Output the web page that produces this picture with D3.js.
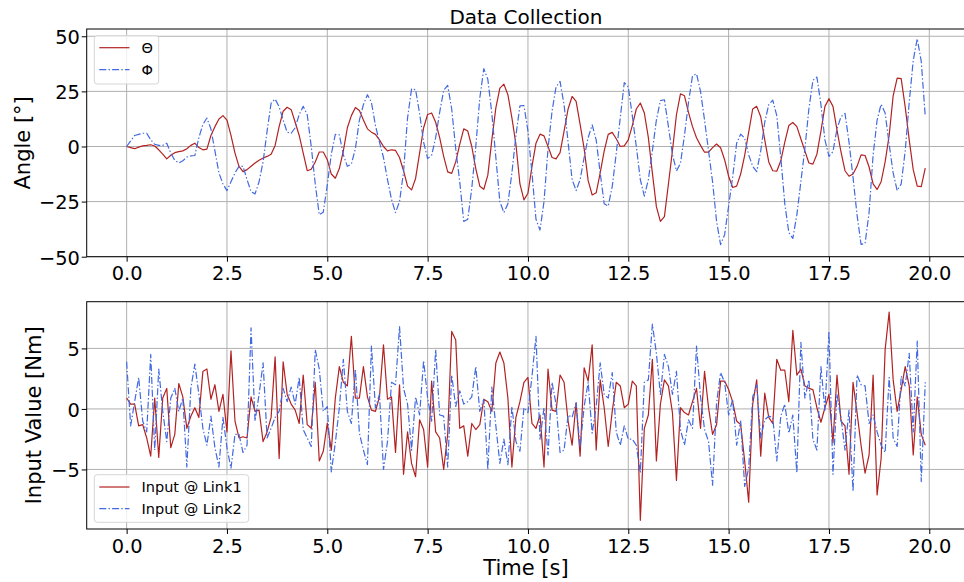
<!DOCTYPE html>
<html><head><meta charset="utf-8">
<script src="https://cdn.jsdelivr.net/npm/d3@7"></script>
<style>body{margin:0;background:#fff} svg{display:block;font-family:"DejaVu Sans",sans-serif}</style>
</head><body><svg id="c" width="964" height="582"></svg>
<script>
const time = d3.range(200).map(i => i / 10);
const theta = [0,-0.5,-1,-0.3,0.3,0.5,0.8,0.2,-1.5,-3.5,
-5.6,-4,-2.8,-2.3,-2,-1,0.5,1.5,-0.5,-1.5,
-1.2,5,9,12.5,14,12,5,-3,-9,-11.4,
-10.5,-9,-7.5,-6.2,-5.2,-4.5,-3.5,0.5,9,16,
17.8,16.7,11,5,-3,-11,-10.3,-7,-2.5,-2.5,
-6,-12.5,-14.4,-10,-2,8.5,14,17.7,16.3,12,
8,6.5,5.5,3,0,-2,-1.5,-1.8,-5,-11,
-18,-19.7,-14.5,-3,8.5,14.5,15.2,11,4,-4.5,
-11.5,-12.2,-7,1,8,7,0,-10,-18,-19.4,
-13,3,17.5,26.5,28.3,23.5,13,1,-17,-24.2,
-21.2,-9,1.5,5.6,4.8,0,-5,-5.6,-2.8,7,
17,22.7,20.5,10,-1,-15.5,-22,-21,-12,-2,
5.5,6.4,3.5,0,0.3,3,9.5,17,19.7,15.2,
4,-12,-27.3,-34,-31.8,-17,-2,14.4,23.9,23,
15.5,9,4,0.5,-2.6,-2.6,-0.5,1.1,-0.6,-6,
-13.5,-18.6,-18,-12.5,-4,6.5,17,18.2,13.5,3,
-7,-11,-11.2,-6.5,2,9.5,10.9,9,3.5,-2,
-7.5,-8,-3.5,7,18.2,21.7,18.2,7.5,-2.5,-11,
-13.5,-12.5,-9,-3.8,-4.1,-9.3,-17,-19.5,-16,-7,
5,23,31,30.8,18,3,-10.5,-18,-18.2,-9.8];
const phi = [0,2.5,5,5.5,6,6,3,1,0.5,0.5,
1.5,-3,-6.3,-7.5,-6.5,-4.8,-4.3,-4.1,4,10,
12.9,8,-2,-12,-17,-20,-16,-12,-9,-9,
-15,-20.5,-21.5,-16,-7,7,19.7,21.5,18,12,
6.5,6,8.5,14.5,18.2,14.4,0,-17,-31,-29.8,
-17.4,-3.5,5.5,5.3,-3.8,-9,-8,-1,12,19,
23.5,20,9.5,2,-5,-15,-24,-30,-25,-11.5,
13,26.1,25.8,15,2,-5.5,-4,4,15.5,25.5,
27.7,17,-1,-16,-34,-33,-19,0,22,35.3,
30.5,15,-5,-25,-30,-26,-12,5,18.4,18.6,
7,-12,-33,-37.9,-25,-1,16,27,29.5,18.9,
2,-15,-20,-15,-5,4,9.8,3,-12,-26,
-27,-18.2,-3,13,29,27,14,0,-15,-22.5,
-15,-2,12,20.8,21.2,9,-3.5,-11.1,-7.6,5,
20,32,33,25,12,-2,-16,-34,-44.5,-40,
-27,-14,1.5,5.6,3.8,-3.8,-9,-11.4,-2,11,
19,21,14,-5,-26,-39,-41.7,-31,-16,-1,
17,30,31.5,19,3,-4.5,-2.3,8,13.5,15,
2,-14,-31,-44.4,-44,-30,-4,12,19.2,15.2,
1,-12,-20,-17,-2,20,39,48.9,38.6,13.6];
const link1 = [0.9,0.4,0.4,-1.4,-1.3,-2.4,-3.9,0.9,-4.0,0.9,
1.7,-3.2,-2.1,2.1,1.0,-1.6,-0.6,0.1,-0.7,3.1,
3.3,0.8,2.0,-0.2,1.2,-1.9,4.8,-1.0,-2.4,-2.3,
-2.4,1.0,-0.2,-0.1,-2.7,-1.9,-0.7,4.3,-4.1,3.9,
1.2,0.4,-0.1,-1.2,2.8,-1.3,-1.6,2.2,-4.3,-3.5,
-1.2,-3.4,0.9,3.5,2.2,1.9,6.0,0.9,0.9,3.5,
1.0,-0.1,-0.2,1.0,5.3,0.8,1.0,-3.6,2.0,-5.4,
-1.9,-4.5,-5.6,-0.9,-1.7,-4.8,2.3,-1.9,-2.4,-5.0,
-2.1,6.4,5.7,-1.6,-1.4,-3.9,-1.2,-1.7,-1.3,0.8,
0.6,-0.2,3.8,4.7,3.8,0.9,-4.8,-0.7,0.6,2.2,
2.6,-1.2,-1.6,-0.5,-4.8,3.3,-0.1,-0.2,2.8,2.2,
-1.0,-3.0,0.5,-3.9,3.4,2.3,5.3,-3.4,2.4,0.1,
-3.1,-0.2,2.2,1.9,0.1,0.4,2.3,1.9,-9.2,-1.6,
-0.5,4.1,-4.3,0.4,2.4,1.9,-0.3,-5.9,0.1,-0.3,
-0.5,0.6,1.7,-1.6,3.1,0.1,-2.1,-1.3,2.3,2.3,
1.6,0.6,-1.0,-1.3,-4.3,-7.7,0.4,2.4,-3.9,1.3,
-0.7,-1.2,4.1,3.2,3.2,0.6,6.5,2.8,3.3,1.9,
1.7,1.6,0.1,-1.1,0.1,1.2,-2.8,2.8,-1.0,-1.4,
-5.4,2.2,-0.3,-3.0,-5.3,-3.8,2.8,-7.1,-4.1,4.9,
8.0,2.4,-0.2,1.6,3.5,1.9,-3.8,1.0,-2.1,-3.0];
const link2 = [3.9,-1.4,0.6,2.6,-1.0,-1.9,4.5,-3.4,3.3,-0.2,
-2.7,0.9,1.7,-0.2,0.9,-4.8,1.7,3.7,1.2,-1.6,
-3.0,-0.6,-3.2,-4.8,-0.7,-3.2,-4.9,-2.1,-2.1,-3.6,
-3.0,6.7,-1.0,1.2,3.8,-2.4,-1.6,-0.7,-0.2,1.7,
0.6,1.8,0.4,2.6,-1.7,-2.4,-3.1,4.9,3.3,-0.2,
0.2,-5.2,-2.8,0.1,4.1,-0.2,-1.2,3.3,-2.0,-3.4,
-4.6,5.2,0.1,1.2,-5.0,-2.7,2.2,2.0,6.8,1.7,
0.4,-3.4,1.0,-0.5,4.0,0.9,-1.0,4.9,-0.5,-0.6,
-4.8,2.8,0.2,1.5,0.4,0.6,1.0,3.5,-0.2,0.8,
-5.0,1.8,-1.4,-4.5,-2.5,-4.6,0.2,-2.7,-3.5,0.1,
-0.3,2.7,6.0,-2.5,0.1,-3.8,2.2,0.4,-3.6,-3.4,
-0.5,-0.7,0.5,-3.2,0.2,2.2,-2.0,0.2,3.8,1.2,
0.9,3.0,-1.9,-3.0,-1.4,-2.5,-2.5,-3.0,-5.3,2.2,
2.4,7.0,4.6,1.2,4.5,3.5,1.2,3.1,-1.7,-3.0,
-0.9,-1.6,5.2,1.0,-1.7,-2.7,-6.3,0.5,3.0,2.2,
-0.5,0.8,-3.0,-1.0,-6.4,-4.9,1.0,2.0,-2.4,-0.9,
-0.6,-0.7,-4.3,-0.6,0.4,-2.0,-0.5,-5.3,5.5,0.9,
2.4,-2.5,-3.4,3.5,-0.1,6.4,-5.4,1.2,-0.7,-3.4,
-0.1,-6.8,2.8,2.0,1.9,-1.2,-0.5,-1.9,-3.0,-3.6,
2.6,-2.4,-3.1,2.7,1.9,4.6,-1.9,5.6,-6.0,2.2];

const xTicks = [0, 2.5, 5, 7.5, 10, 12.5, 15, 17.5, 20];
const xTickLabels = ["0.0","2.5","5.0","7.5","10.0","12.5","15.0","17.5","20.0"];
const topYTicks = [-50, -25, 0, 25, 50];
const topYTickLabels = ["\u221250","\u221225","0","25","50"];
const botYTicks = [-5, 0, 5];
const botYTickLabels = ["\u22125","0","5"];
const topNames = ["\u0398", "\u03A6"];
const botNames = ["Input @ Link1", "Input @ Link2"];

const RED = "#b22222", BLUE = "#4169e1";
const DASH = "7,2.2,1.4,2.2";
const svg = d3.select("#c");
const L = 86.7, R = 965.2;
const x = d3.scaleLinear().domain([-0.995, 20.895]).range([L, R]);

const panels = [
  {y: d3.scaleLinear().domain([-50, 53.3]).range([256.7, 29]), yt: topYTicks, ytl: topYTickLabels,
   series: [theta, phi], names: topNames, ylabel: "Angle [\u00B0]", ylabelX: 30,
   leg: {x: 94.3, y: 35.7, w: 64.4, h: 48.3, rows: [47.7, 69.7]}, xlabelPad: 4.3},
  {y: d3.scaleLinear().domain([-9.92, 8.86]).range([529, 301.7]), yt: botYTicks, ytl: botYTickLabels,
   series: [link1, link2], names: botNames, ylabel: "Input Value [Nm]", ylabelX: 41,
   leg: {x: 94.3, y: 474.7, w: 154.4, h: 47.6, rows: [487, 508.7]}, xlabelPad: 5.5}
];

svg.append("text").attr("x", (L + R) / 2).attr("y", 24).attr("text-anchor", "middle")
  .attr("font-size", 20).attr("fill", "#000").text("Data Collection");

panels.forEach((p, pi) => {
  const [y0, y1] = p.y.range();
  const g = svg.append("g");
  const clipId = "clip" + pi;
  svg.append("defs").append("clipPath").attr("id", clipId).append("rect")
    .attr("x", L).attr("y", y1).attr("width", R - L).attr("height", y0 - y1);
  // grid
  g.selectAll(".vg").data(xTicks).join("line")
    .attr("x1", d => x(d)).attr("x2", d => x(d)).attr("y1", y1).attr("y2", y0)
    .attr("stroke", "#b0b0b0").attr("stroke-width", 1);
  g.selectAll(".hg").data(p.yt).join("line").attr("class","hg")
    .attr("x1", L).attr("x2", R).attr("y1", d => p.y(d)).attr("y2", d => p.y(d))
    .attr("stroke", "#b0b0b0").attr("stroke-width", 1);
  // lines
  const colors = [RED, BLUE];
  p.series.forEach((s, si) => {
    const line = d3.line().x((d, i) => x(time[i])).y(d => p.y(d));
    g.append("path").datum(s).attr("d", line).attr("fill", "none")
      .attr("clip-path", `url(#${clipId})`)
      .attr("stroke", colors[si]).attr("stroke-width", 1.2)
      .attr("stroke-linejoin", "round")
      .attr("stroke-dasharray", si === 1 ? DASH : null);
  });
  // spines
  g.append("rect").attr("x", L).attr("y", y1).attr("width", R - L).attr("height", y0 - y1)
    .attr("fill", "none").attr("stroke", "#000").attr("stroke-width", 1);
  // x axis
  const xa = d3.axisBottom(x).tickValues(xTicks).tickFormat((d, i) => xTickLabels[i])
    .tickSize(5).tickPadding(p.xlabelPad);
  const xg = g.append("g").attr("transform", `translate(0,${y0})`).call(xa);
  xg.select(".domain").remove();
  xg.selectAll("text").attr("font-size", 19.4).attr("font-family", "DejaVu Sans").attr("fill", "#000");
  xg.selectAll("line").attr("stroke", "#000");
  // y axis
  const ya = d3.axisLeft(p.y).tickValues(p.yt).tickFormat((d, i) => p.ytl[i])
    .tickSize(5).tickPadding(1.8);
  const yg = g.append("g").attr("transform", `translate(${L},0)`).call(ya);
  yg.select(".domain").remove();
  yg.selectAll("text").attr("font-size", 19.4).attr("font-family", "DejaVu Sans").attr("fill", "#000").attr("dy", "0.38em");
  yg.selectAll("line").attr("stroke", "#000");
  // y label
  svg.append("text").attr("transform", `translate(${p.ylabelX},${(y0 + y1) / 2}) rotate(-90)`)
    .attr("text-anchor", "middle").attr("font-size", 21).attr("fill", "#000").text(p.ylabel);
  // legend
  const lg = svg.append("g");
  lg.append("rect").attr("x", p.leg.x).attr("y", p.leg.y).attr("width", p.leg.w).attr("height", p.leg.h)
    .attr("rx", 3).attr("fill", "#fff").attr("fill-opacity", 0.8).attr("stroke", "#d5d5d5").attr("stroke-width", 1);
  p.names.forEach((n, i) => {
    const ry = p.leg.rows[i];
    lg.append("line").attr("x1", 99.3).attr("x2", 129.5).attr("y1", ry).attr("y2", ry)
      .attr("stroke", colors[i]).attr("stroke-width", 1.2).attr("stroke-dasharray", i === 1 ? DASH : null);
    lg.append("text").attr("x", 141.5).attr("y", ry).attr("dy", "0.36em").attr("font-size", 14.5)
      .attr("fill", "#000").text(n);
  });
});

svg.append("text").attr("x", (L + R) / 2).attr("y", 575).attr("text-anchor", "middle")
  .attr("font-size", 21).attr("fill", "#000").text("Time [s]");
</script></body></html>
